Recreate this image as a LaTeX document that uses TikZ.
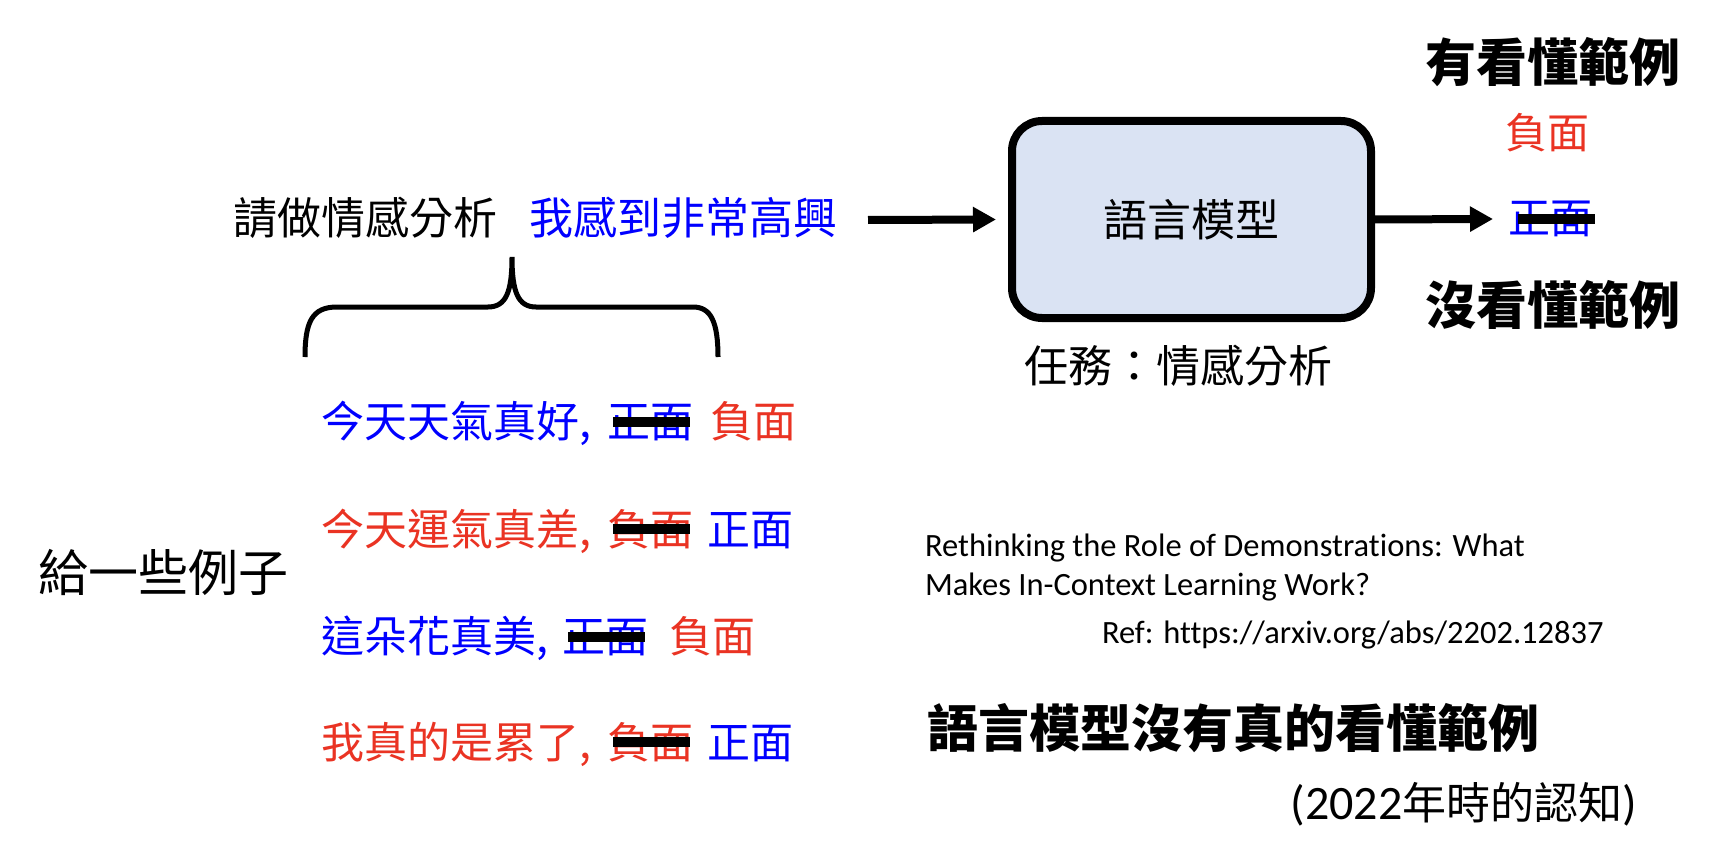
\documentclass[tikz,border=0pt]{standalone}
\usepackage{fontspec}
\setmainfont{Noto Sans CJK TC}
\newfontfamily\cjkf{Noto Sans CJK TC}
\newfontfamily\latf{Carlito}[Ligatures={NoCommon}]
\usetikzlibrary{arrows.meta}
\definecolor{myred}{HTML}{EA3323}
\definecolor{myblue}{HTML}{0000FF}
\definecolor{boxfill}{HTML}{DAE3F3}
\begin{document}
\begin{tikzpicture}[x=1pt,y=-1pt,
  plain/.style={inner sep=0pt,outer sep=0pt},
  zh/.style={plain,font=\cjkf\fontsize{44}{52}\selectfont},
  zhrow/.style={plain,font=\cjkf\fontsize{43}{52}\selectfont,anchor=base west},
  zhsmall/.style={plain,font=\cjkf\fontsize{42}{50}\selectfont},
  zhbold/.style={plain,font=\cjkf\bfseries\fontsize{51}{60}\selectfont},
  zhtitle/.style={plain,font=\cjkf\bfseries\fontsize{51}{60}\selectfont},
  reftext/.style={plain,anchor=base west,font=\latf\fontsize{32.5}{39}\selectfont},
  strike/.style={line width=10pt,black},
  arr/.style={line width=8pt,-{Triangle[length=23pt,width=24pt]}},
  bracestyle/.style={line width=5pt,line cap=butt},
  lmbox/.style={draw,line width=8pt,rounded corners=30pt,fill=boxfill,
    minimum width=359pt,minimum height=197pt}
]
\fill[white] (0,0) rectangle (1722,864);
\path[use as bounding box] (0,0) rectangle (1722,864);

% prompt line
\node[zh] (q1) at (365,218) {請做情感分析};
\node[zh,text=myblue] (q2) at (683,218) {我感到非常高興};

% model box
\node[zh,lmbox] (lm) at (1191.5,219.5) {語言模型};
\node[zh] (task) at (1178,366) {任務：情感分析};

% arrows
\coordinate (a1s) at (868,220);
\draw[arr] (a1s) -- ([xshift=-16pt]lm.west);

% right side outputs
\node[zhbold] (yes) at (1553,62) {有看懂範例};
\node[zhsmall,text=myred] (neg) at (1547,133) {負面};
\node[zhsmall,text=myblue] (pos) at (1550,219) {正面};
\draw[strike] ([xshift=10pt]pos.west) -- ([xshift=3pt]pos.east);
\node[zhbold] (no) at (1553,305) {沒看懂範例};
\draw[arr] (lm.east) -- ([xshift=-15pt]pos.west);

% brace
\draw[bracestyle] (305,357) .. controls (305,322) and (312,307) .. (337,307)
  -- (488,307) .. controls (506,307) and (512,292) .. (512,257)
  .. controls (512,292) and (518,307) .. (536,307)
  -- (693,307) .. controls (711,307) and (718,322) .. (718,357);

% examples label
\node[plain,font=\cjkf\fontsize{50}{58}\selectfont] (ex) at (163,572) {給一些例子};

% row 1
\node[zhrow,text=myblue] (r1a) at (321,437) {今天天氣真好,};
\node[zhrow,text=myblue] (r1b) at (607,437) {正面};
\node[zhrow,text=myred] (r1c) at (710,437) {負面};
\draw[strike] ([xshift=6pt]r1b.west) -- ([xshift=-3pt]r1b.east);
% row 2
\node[zhrow,text=myred] (r2a) at (321,545) {今天運氣真差,};
\node[zhrow,text=myred] (r2b) at (607,545) {負面};
\node[zhrow,text=myblue] (r2c) at (707,545) {正面};
\draw[strike] ([xshift=6pt]r2b.west) -- ([xshift=-3pt]r2b.east);
% row 3
\node[zhrow,text=myblue] (r3a) at (321,652) {這朵花真美,};
\node[zhrow,text=myblue] (r3b) at (562,652) {正面};
\node[zhrow,text=myred] (r3c) at (669,652) {負面};
\draw[strike] ([xshift=6pt]r3b.west) -- ([xshift=-3pt]r3b.east);
% row 4
\node[zhrow,text=myred] (r4a) at (321,758) {我真的是累了,};
\node[zhrow,text=myred] (r4b) at (607,758) {負面};
\node[zhrow,text=myblue] (r4c) at (707,758) {正面};
\draw[strike] ([xshift=6pt]r4b.west) -- ([xshift=-3pt]r4b.east);

% reference
\node[reftext] (ref1) at (925,556) {Rethinking the Role of Demonstrations: What};
\node[reftext] (ref2) at (925,595) {Makes In-Context Learning Work?};
\node[reftext] (ref3) at (1102,643) {Ref: https://arxiv.org/abs/2202.12837};

% conclusion
\node[zhtitle,anchor=west] (title) at (927,728) {語言模型沒有真的看懂範例};
\node[plain,anchor=base east] (year) at (1637,819)
  {\latf\fontsize{48}{56}\selectfont (2022\cjkf\fontsize{44}{52}\selectfont 年時的認知\latf\fontsize{48}{56}\selectfont )};
\end{tikzpicture}
\end{document}
